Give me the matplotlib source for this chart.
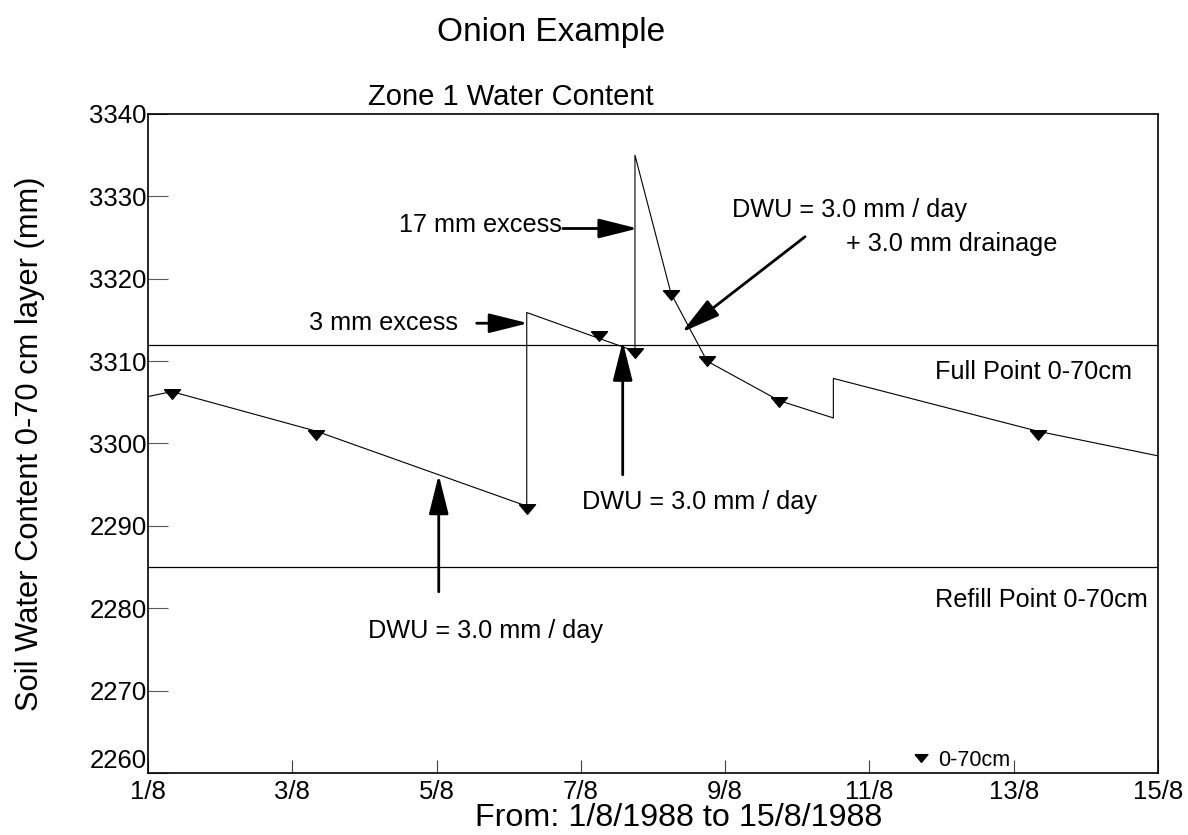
import numpy as np
import matplotlib
matplotlib.use("Agg")
import matplotlib.pyplot as plt

plt.rcParams['font.family'] = ['Liberation Sans', 'DejaVu Sans']

# simulated soil water (days after 1/8/1988)
line_day = [0, 0.33, 2.33, 5.25, 5.25, 6.75, 6.75, 7.25, 7.75, 8.75, 9.5, 9.5, 12.33, 14]
line_val = [3305.7, 3306.3, 3301.5, 3292.4, 3315.9, 3311.2, 3335.0, 3318.2, 3310.0,
            3305.2, 3303.1, 3307.9, 3301.5, 3298.5]

# measured points 0-70cm
meas_day = [0.33, 2.33, 5.25, 6.25, 6.75, 7.25, 7.75, 8.75, 12.33]
meas_val = [3306.0, 3301.0, 3292.0, 3313.0, 3311.0, 3318.0, 3310.0, 3305.0, 3301.0]

full_point = 3312
refill_point = 3285

x_ticks = [0, 2, 4, 6, 8, 10, 12, 14]
x_labels = ['1/8', '3/8', '5/8', '7/8', '9/8', '11/8', '13/8', '15/8']
y_ticks = [3260, 3270, 3280, 3290, 3300, 3310, 3320, 3330, 3340]
y_labels = ['2260', '2270', '2280', '2290', '3300', '3310', '3320', '3330', '3340']

tri = [(-1, 0.6), (1, 0.6), (0, -0.6), (-1, 0.6)]

fig = plt.figure(figsize=(11.88, 8.35), dpi=100)
ax = fig.add_axes([148/1188, 1-773/835, 1010/1188, 659/835])

ax.plot(line_day, line_val, color='black', lw=0.8)
ax.plot(meas_day, meas_val, ls='none', marker=tri, ms=11.5, color='black', label='0-70cm')
ax.axhline(full_point, color='black', lw=0.9)
ax.axhline(refill_point, color='black', lw=0.9)

ax.set_xlim(0, 14)
ax.set_ylim(3260, 3340)
ax.set_xticks(x_ticks)
ax.set_xticklabels(x_labels)
ax.set_yticks(y_ticks)
ax.set_yticklabels(y_labels)
ax.tick_params(axis='x', direction='in', length=9.5, width=0.8, color='0.25', labelsize=18.5, pad=5)
ax.tick_params(axis='y', direction='in', length=14.5, width=0.8, color='0.35', labelsize=18.5, pad=1)
ax.get_yticklabels()[0].set_va('bottom')
for s in ax.spines.values():
    s.set_linewidth(1.2)

fs = 18.2
arr = dict(arrowstyle='-|>,head_length=1.2,head_width=0.3', mutation_scale=20,
           lw=2, color='black', shrinkA=0, shrinkB=0)

ax.annotate('', xy=(6.79, 3326.1), xytext=(5.75, 3326.1), arrowprops=arr)
ax.text(5.73, 3326.5, '17 mm excess', ha='right', va='center', fontsize=fs)

ax.annotate('', xy=(5.27, 3314.6), xytext=(4.556, 3314.6), arrowprops=arr)
ax.text(4.30, 3314.6, '3 mm excess', ha='right', va='center', fontsize=fs)

ax.annotate('', xy=(4.03, 3296.2), xytext=(4.03, 3282.0), arrowprops=arr)
ax.text(4.68, 3277.2, 'DWU = 3.0 mm / day', ha='center', va='center', fontsize=fs)

ax.annotate('', xy=(6.58, 3312.4), xytext=(6.58, 3296.2), arrowprops=arr)
ax.text(7.64, 3292.95, 'DWU = 3.0 mm / day', ha='center', va='center', fontsize=fs)

ax.annotate('', xy=(7.398, 3313.5), xytext=(9.107, 3325.1), arrowprops=arr)
ax.text(8.10, 3328.35, 'DWU = 3.0 mm / day', ha='left', va='center', fontsize=fs)
ax.text(9.68, 3324.2, '+ 3.0 mm drainage', ha='left', va='center', fontsize=fs)

ax.text(10.91, 3308.7, 'Full Point 0-70cm', ha='left', va='center', fontsize=fs)
ax.text(10.91, 3281.0, 'Refill Point 0-70cm', ha='left', va='center', fontsize=fs)

ax.legend(loc='lower left', bbox_to_anchor=(0.755, 0.0), frameon=False, fontsize=15.5,
          handlelength=0.8, handletextpad=0.4, borderpad=0.1, borderaxespad=0,
          markerscale=0.8)

fig.text(551/1188, 1-33/835, 'Onion Example', ha='center', va='center', fontsize=24)
fig.text(511/1188, 1-97/835, 'Zone 1 Water Content', ha='center', va='center', fontsize=21)
fig.text(679/1188, 1-818/835, 'From: 1/8/1988 to 15/8/1988', ha='center', va='center', fontsize=23.2)
fig.text(30/1188, 1-444/835, 'Soil Water Content 0-70 cm layer (mm)', ha='center', va='center',
         rotation=90, fontsize=22.2)

fig.savefig('out.png', dpi=100)
